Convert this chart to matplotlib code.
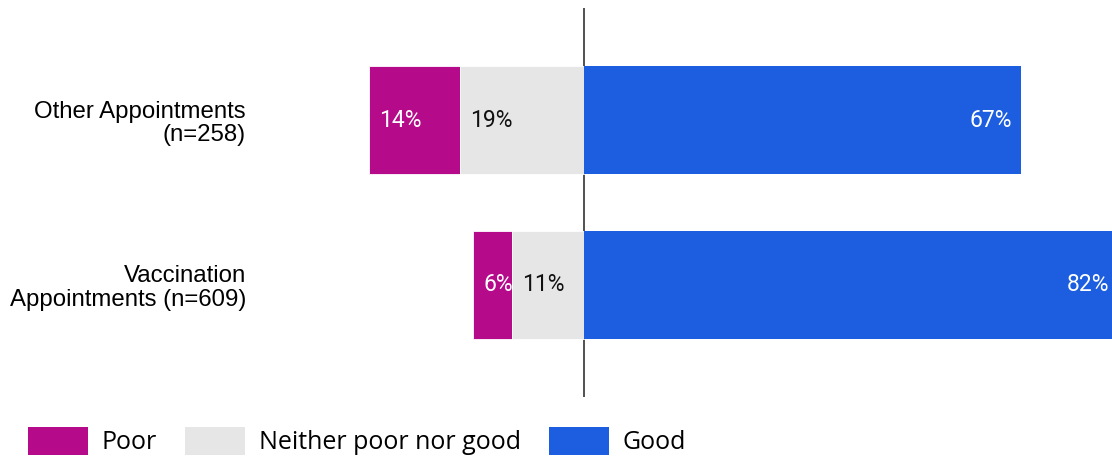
import matplotlib.pyplot as plt
from matplotlib.patches import Patch
from matplotlib.transforms import offset_copy

# Survey data
groups = ["Other Appointments\n(n=258)", "Vaccination\nAppointments (n=609)"]
poor = [14, 6]
neither = [19, 11]
good = [67, 82]
legend_labels = ["Poor", "Neither poor nor good", "Good"]

c_poor = "#B50A8A"
c_neither = "#E6E6E6"
c_good = "#1D5EE0"

fig = plt.figure(figsize=(11.12, 4.62), dpi=100)
W, H = 1112, 462
ax = fig.add_axes([260 / W, 1 - 397 / H, (1112 - 260) / W, (397 - 8) / H])

y = list(range(len(groups)))
h = 0.655
poor_left = [-(p + n) for p, n in zip(poor, neither)]
neither_left = [-n for n in neither]

ax.barh(y, poor, left=poor_left, height=h, color=c_poor, edgecolor="white", linewidth=0.6)
ax.barh(y, neither, left=neither_left, height=h, color=c_neither, edgecolor="white", linewidth=0.6)
ax.barh(y, good, left=0, height=h, color=c_good)

ax.axvline(0, color="#333333", lw=1.2, zorder=0)

ax.set_xlim(-49.7, 81)
ax.set_ylim(1.68, -0.68)

lab_font = dict(family="Roboto", fontsize=16.5)
right_off = offset_copy(ax.transData, fig=fig, x=10, y=0, units="dots")
left_off = offset_copy(ax.transData, fig=fig, x=-9, y=0, units="dots")
for i in y:
    ax.text(poor_left[i], i, f"{poor[i]}%", transform=right_off, ha="left", va="center",
            color="white", **lab_font)
    ax.text(neither_left[i], i, f"{neither[i]}%", transform=right_off, ha="left", va="center",
            color="#111111", **lab_font)
    ax.text(good[i], i, f"{good[i]}%", transform=left_off, ha="right", va="center",
            color="white", clip_on=False, **lab_font)

ax.set_yticks(y)
ax.set_yticklabels(groups, fontsize=17.3, family="Liberation Sans", ha="right", linespacing=1.1)
ax.tick_params(axis="y", length=0, pad=10)
ax.set_xticks([])
for s in ax.spines.values():
    s.set_visible(False)

handles = [Patch(facecolor=c, edgecolor="none") for c in (c_poor, c_neither, c_good)]
fig.legend(handles, legend_labels, loc="center left", bbox_to_anchor=(5 / W, 1 - 441 / H),
           ncol=3, frameon=False, prop=dict(family="Open Sans", size=18),
           handlelength=2.4, handleheight=1.32, handletextpad=0.56, columnspacing=1.12)

fig.savefig("out.png", dpi=100)
